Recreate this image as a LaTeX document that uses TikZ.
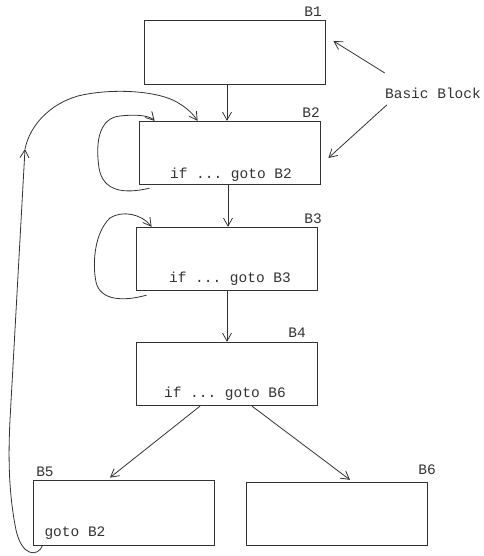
\documentclass[tikz,border=0pt]{standalone}
\usepackage{fontspec}
\setmonofont{Liberation Mono}
\usetikzlibrary{arrows.meta}
\definecolor{ink}{gray}{0.2}
\begin{document}
\begin{tikzpicture}[x=1pt,y=-1pt,
  font=\ttfamily\fontsize{14.5}{16}\selectfont,
  line width=0.8pt, draw=ink,
  >={Straight Barb[length=8pt,width=9pt]},
  blk/.style={draw=ink, rectangle, inner sep=0pt, minimum width=181pt, minimum height=63.5pt},
  lbl/.style={inner sep=0pt, text=ink},
  conn/.style={->, ink, line width=0.8pt}]
\useasboundingbox (0,0) rectangle (483,556);
\fill[white] (0,0) rectangle (483,556);

% blocks
\node[blk] (B1) at (234.5,52.5) {};
\node[blk] (B2) at (229.5,153) {};
\node[blk] (B3) at (226.5,259) {};
\node[blk] (B4) at (226.5,374) {};
\node[blk, minimum height=65pt] (B5) at (123.5,512.5) {};
\node[blk] (B6) at (336.5,514) {};

% labels
\node[lbl] (L1) at (313,12) {B1};
\node[lbl] (L2) at (311,113) {B2};
\node[lbl] (L3) at (313,219) {B3};
\node[lbl] (L4) at (297,333) {B4};
\node[lbl] (L5) at (45,472) {B5};
\node[lbl] (L6) at (427,470) {B6};

\node[lbl] (T2) at (231,175) {if ... goto B2};
\node[lbl] (T3) at (230,279) {if ... goto B3};
\node[lbl] (T4) at (225,394) {if ... goto B6};
\node[lbl] (T5) at (75,533) {goto B2};

\node[lbl] (BB) at (433,93) {Basic Block};

% straight connectors
\draw[conn] ([shift={(-7.5,0)}]B1.south) -- ([shift={(-2.5,0)}]B2.north);
\draw[conn] ([shift={(-1.5,0)}]B2.south) -- ([shift={(1.5,0)}]B3.north);
\draw[conn] ([shift={(0.5,0)}]B3.south) -- ([shift={(0.5,0)}]B4.north);
\draw[conn] ([shift={(-26.5,0)}]B4.south) -- ([shift={(-13.5,-2)}]B5.north);
\draw[conn] ([shift={(25.5,0)}]B4.south) -- ([shift={(13.5,-2)}]B6.north);

% Basic Block pointers
\draw[conn] ([shift={(0,-20)}]BB.west) -- ([shift={(8,-11.5)}]B1.east);
\draw[conn] ([shift={(2,12)}]BB.west) -- ([shift={(8,5)}]B2.east);

% self loops
\draw[conn] ([shift={(11,3)}]B2.south west)
  .. controls (125,194) and (103,192) .. (99,168)
  .. controls (95,140) and (100,118) .. (120,116)
  .. controls (138,114) and (150,116) .. ([shift={(16,0)}]B2.north west);
\draw[conn] ([shift={(11,4)}]B3.south west)
  .. controls (122,302) and (100,300) .. (96,282)
  .. controls (92,262) and (95,232) .. (110,218)
  .. controls (122,210) and (142,214) .. ([shift={(16,0)}]B3.north west);

% long loop B5 -> B2
\coordinate (M) at (25,149);
\draw[conn] ([shift={(10,0)}]B5.south west)
  .. controls (38,557) and (22,557) .. (16,530)
  .. controls (9,495) and (8,460) .. (10,420)
  -- (M);
\draw[conn] (M)
  .. controls (30,125) and (50,104) .. (78,96)
  .. controls (110,88) and (160,90) .. (180,104)
  .. controls (190,110) and (195,117) .. ([shift={(59,0)}]B2.north west);
\end{tikzpicture}
\end{document}
